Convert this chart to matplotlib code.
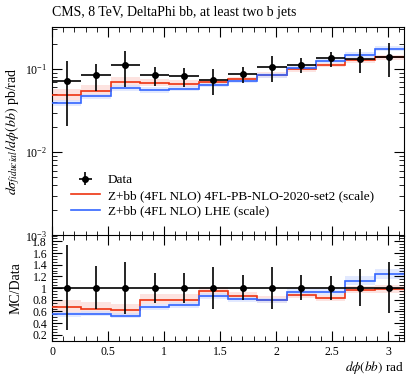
import numpy as np
import matplotlib
matplotlib.use("Agg")
import matplotlib.pyplot as plt
from matplotlib.ticker import MultipleLocator, LogLocator, NullFormatter, FixedLocator, FuncFormatter
from matplotlib.lines import Line2D

plt.rcParams['font.family'] = ['Liberation Serif', 'DejaVu Serif']
plt.rcParams['mathtext.fontset'] = 'stix'

# ---- data ----
bin_edges = np.linspace(0, np.pi, 13)
data_vals = [0.0716, 0.084, 0.112, 0.084, 0.082, 0.074, 0.087, 0.106, 0.112, 0.134, 0.131, 0.141]
data_rel_up = [1.73, 1.37, 1.45, 1.25, 1.26, 1.36, 1.22, 1.36, 1.22, 1.21, 1.33, 1.44]
data_rel_dn = [0.29, 0.64, 0.55, 0.75, 0.75, 0.65, 0.79, 0.65, 0.79, 0.79, 0.69, 0.57]

red_vals = [0.0483, 0.0543, 0.0691, 0.0672, 0.0656, 0.0698, 0.0751, 0.0842, 0.0986, 0.111, 0.127, 0.138]
red_rel_up = [1.18, 1.17, 1.17, 1.12, 1.12, 1.08, 1.08, 1.08, 1.07, 1.07, 1.07, 1.07]
red_rel_dn = [0.86, 0.87, 0.87, 0.92, 0.92, 0.93, 0.93, 0.93, 0.94, 0.94, 0.94, 0.94]

blue_vals = [0.0394, 0.047, 0.0594, 0.0566, 0.0582, 0.0644, 0.0713, 0.0837, 0.104, 0.125, 0.1475, 0.175]
blue_rel_up = [1.08, 1.08, 1.08, 1.08, 1.07, 1.06, 1.06, 1.06, 1.06, 1.06, 1.07, 1.07]
blue_rel_dn = [0.92, 0.92, 0.92, 0.92, 0.93, 0.94, 0.94, 0.94, 0.94, 0.94, 0.93, 0.93]

labels = ["Data", "Z+bb (4FL NLO) 4FL-PB-NLO-2020-set2 (scale)", "Z+bb (4FL NLO) LHE (scale)"]
title = "CMS, 8 TeV, DeltaPhi bb, at least two b jets"

RED = "#ee3311"
BLUE = "#3366ff"
RED_BAND = "#fdd8d4"
BLUE_BAND = "#d6e0ff"

edges = np.array(bin_edges)
centers = 0.5 * (edges[:-1] + edges[1:])
halfw = 0.5 * (edges[1:] - edges[:-1])
dv = np.array(data_vals)
dup = np.array(data_rel_up)
ddn = np.array(data_rel_dn)

fig = plt.figure(figsize=(4.17, 3.76), dpi=100)
L, R = 52 / 417, 404 / 417
ax = fig.add_axes([L, 1 - 235.5 / 376, R - L, (235.5 - 26.7) / 376])
rax = fig.add_axes([L, 1 - 340.7 / 376, R - L, (340.7 - 235.5) / 376], sharex=ax)


def step(a, vals, color, lw=1.2, z=3):
    v = np.array(vals)
    a.stairs(v, edges, color=color, lw=lw, zorder=z, baseline=None)


def band(a, lo, hi, color, z=1):
    a.stairs(np.array(hi), edges, baseline=np.array(lo), fill=True, color=color, alpha=0.7, lw=0, zorder=z)


# main panel
rv, bv = np.array(red_vals), np.array(blue_vals)
band(ax, rv * np.array(red_rel_dn), rv * np.array(red_rel_up), RED_BAND)
band(ax, bv * np.array(blue_rel_dn), bv * np.array(blue_rel_up), BLUE_BAND)
step(ax, red_vals, RED)
step(ax, blue_vals, BLUE)
ax.errorbar(centers, dv, xerr=halfw, yerr=[dv - dv * ddn, dv * dup - dv], fmt='o', color='black',
            ms=4, lw=1.2, capsize=0, zorder=5)
ax.set_yscale('log')
ax.set_ylim(1e-3, 0.322)
ax.set_xlim(0, np.pi)
ax.set_ylabel(r"$d\sigma_{fiducial}/d\phi(bb)$ pb/rad", fontsize=10)
ax.text(0.0, 1.035, title, transform=ax.transAxes, fontsize=10, ha='left', va='bottom')

h_data = ax.errorbar([], [], xerr=[], yerr=[], fmt='o', color='black', ms=4, lw=1.2)
h_red = Line2D([], [], color=RED, lw=1.2)
h_blue = Line2D([], [], color=BLUE, lw=1.2)
leg = ax.legend([h_data, h_red, h_blue], labels, loc='lower left', bbox_to_anchor=(0.02, 0.03),
                frameon=False, fontsize=9.5, handlelength=2.2, handletextpad=0.6, labelspacing=0.25)

# ratio panel
rax.axhline(1.0, color='black', lw=1.2, zorder=4)
band(rax, np.array(red_rel_dn) * rv / dv, np.array(red_rel_up) * rv / dv, RED_BAND)
band(rax, np.array(blue_rel_dn) * bv / dv, np.array(blue_rel_up) * bv / dv, BLUE_BAND)
step(rax, rv / dv, RED)
step(rax, bv / dv, BLUE)
rax.errorbar(centers, np.ones_like(dv), yerr=[1 - ddn, dup - 1], fmt='o', color='black', ms=4,
             lw=1.2, capsize=0, zorder=5)
rax.set_ylim(0.1, 1.9)
rax.set_ylabel("MC/Data", fontsize=10)
rax.set_xlabel(r"$d\phi(bb)$ rad", fontsize=9.5, loc='right', labelpad=1)

for a in (ax, rax):
    a.tick_params(which='both', direction='in', top=True, right=True, labelsize=8.5)
    a.tick_params(which='major', length=7)
    a.tick_params(which='minor', length=3.5)
    a.xaxis.set_major_locator(MultipleLocator(0.5))
    a.xaxis.set_minor_locator(MultipleLocator(0.1))
ax.tick_params(labelbottom=False)
rax.xaxis.set_major_formatter(FuncFormatter(lambda v, p: f"{v:g}"))
ax.yaxis.set_major_locator(LogLocator(base=10, numticks=10))
ax.yaxis.set_minor_locator(LogLocator(base=10, subs=np.arange(2, 10), numticks=20))
ax.yaxis.set_minor_formatter(NullFormatter())
rax.yaxis.set_major_locator(FixedLocator([0.2, 0.4, 0.6, 0.8, 1.0, 1.2, 1.4, 1.6, 1.8]))
rax.yaxis.set_minor_locator(MultipleLocator(0.05))
rax.yaxis.set_major_formatter(FuncFormatter(lambda v, p: f"{v:g}"))
ax.yaxis.set_label_coords(-0.085, 0.5)
rax.yaxis.set_label_coords(-0.085, 0.5)

fig.savefig("out.png", dpi=100)
